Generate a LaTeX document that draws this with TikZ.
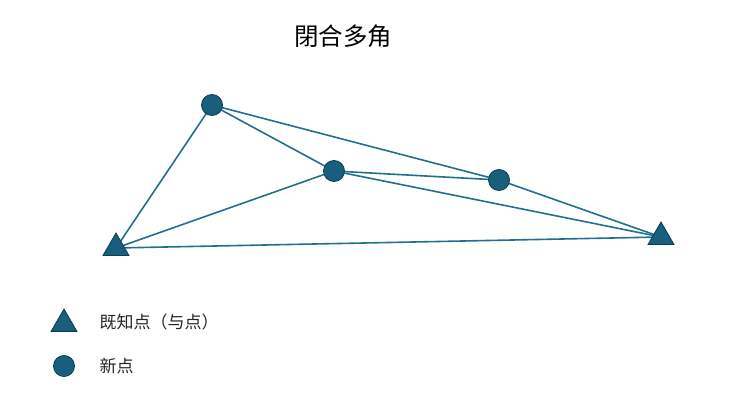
\documentclass[tikz,border=0pt]{standalone}
\usepackage{fontspec}
\setmainfont{Noto Sans CJK SC}
\usepackage{tikz}
\usetikzlibrary{shapes.geometric, positioning}
\definecolor{ptfill}{HTML}{1A5E7E}
\definecolor{ptdraw}{HTML}{0F3B50}
\definecolor{edgecolor}{HTML}{236F8F}

\begin{document}
\begin{tikzpicture}[
    x=1pt, y=-1pt,
    known/.style={regular polygon, regular polygon sides=3, minimum size=30pt,
                  inner sep=0pt, fill=ptfill, draw=ptdraw, line width=0.8pt},
    newpt/.style={circle, minimum size=21pt, inner sep=0pt,
                  fill=ptfill, draw=ptdraw, line width=0.8pt},
    edge/.style={draw=edgecolor, line width=1.6pt},
    legtext/.style={anchor=west, font=\fontsize{17}{19}\selectfont, text=black!85}
]
    \useasboundingbox (0,0) rectangle (752,409);

    % Title
    \node[font=\fontsize{24.5}{28}\selectfont] (title) at (343,36) {閉合多角};

    % Points
    \coordinate (a1) at (116,248);
    \coordinate (a2) at (661,237);
    \coordinate (p1) at (212,105);
    \coordinate (p2) at (334,171);
    \coordinate (p3) at (499,180);

    % Edges
    \draw[edge] (a1) -- (p1);
    \draw[edge] (a1) -- (p2);
    \draw[edge] (a1) -- (a2);
    \draw[edge] (p1) -- (p2);
    \draw[edge] (p1) -- (p3);
    \draw[edge] (p2) -- (p3);
    \draw[edge] (p2) -- (a2);
    \draw[edge] (p3) -- (a2);

    % Markers
    \node[known] (known1) at (a1) {};
    \node[known] (known2) at (a2) {};
    \node[newpt] (new1) at (p1) {};
    \node[newpt] (new2) at (p2) {};
    \node[newpt] (new3) at (p3) {};

    % Legend
    \node[known] (legknown) at (64,324) {};
    \node[newpt] (legnew) at (64,366) {};
    \node[legtext] (legknowntext) at (96,322) {既知点（与点）};
    \node[legtext] (legnewtext) at (96,366) {新点};

\end{tikzpicture}
\end{document}
